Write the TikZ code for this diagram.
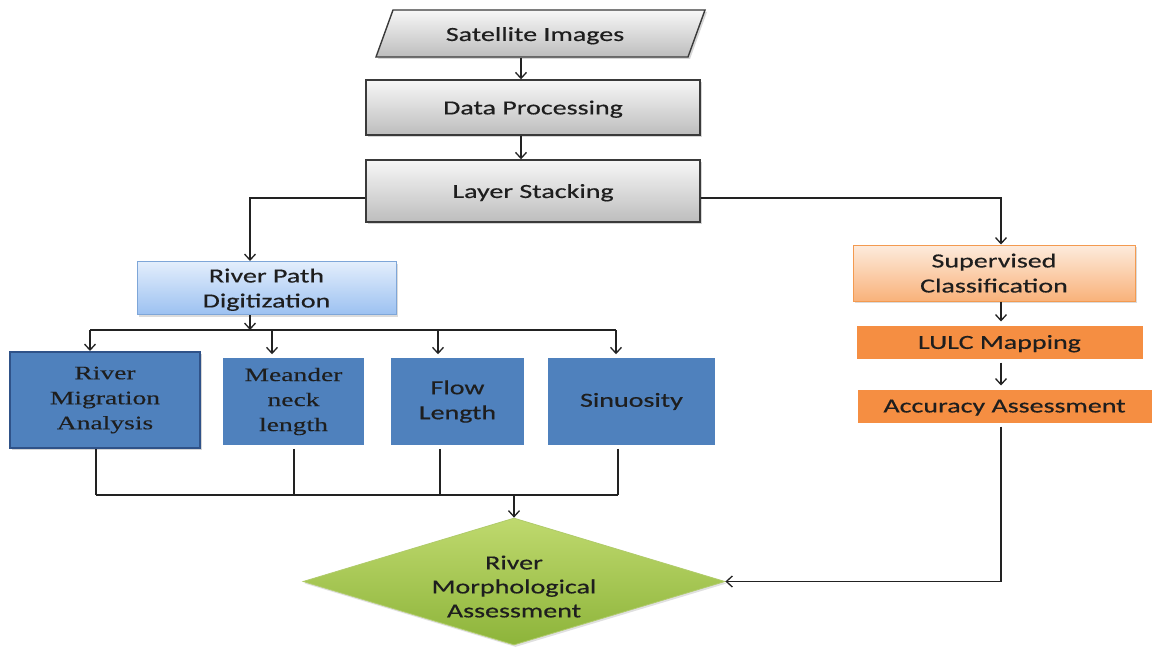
\documentclass[tikz,border=0pt]{standalone}
\usepackage{fontspec}
\setmainfont{Carlito}[FakeStretch=1.40, FakeBold=0.5]
\newfontfamily\serifA{Liberation Serif}[FakeStretch=1.45, FakeBold=0.3]
\usetikzlibrary{shapes.geometric,arrows.meta,shadows}
\definecolor{txt}{HTML}{1E1E1E}
\definecolor{grayedge}{HTML}{3A3A3A}
\definecolor{graytop}{HTML}{F7F7F7}
\definecolor{graybot}{HTML}{BDBDBD}
\definecolor{lbtop}{HTML}{E3EEFC}
\definecolor{lbbot}{HTML}{9CC1F1}
\definecolor{lbedge}{HTML}{7EA6D8}
\definecolor{dblue}{HTML}{4F81BD}
\definecolor{dbedge}{HTML}{2F5288}
\definecolor{ortop}{HTML}{FDEBDD}
\definecolor{orbot}{HTML}{F9B27A}
\definecolor{oredge}{HTML}{F39A50}
\definecolor{orfill}{HTML}{F58E42}
\definecolor{grtop}{HTML}{BFD96E}
\definecolor{grbot}{HTML}{8DB43A}
\definecolor{gredge}{HTML}{B0CB6A}
\definecolor{wire}{HTML}{222222}
\tikzset{
  lbl/.style={font=\fontsize{20}{25}\selectfont, text=txt, align=center, text depth=0pt},
  slbl/.style={font=\serifA\fontsize{19}{25}\selectfont, text=txt, align=center},
  graybox/.style={lbl, draw=grayedge, line width=1.4pt, top color=graytop, bottom color=graybot,
    drop shadow={shadow xshift=2pt, shadow yshift=-2pt, fill=black!40, opacity=.4}, inner sep=0pt},
  lbbox/.style={lbl, draw=lbedge, line width=1pt, top color=lbtop, bottom color=lbbot,
    drop shadow={shadow xshift=2pt, shadow yshift=-2pt, fill=black!40, opacity=.35}, inner sep=0pt},
  bluebox/.style={slbl, draw=white, line width=3.5pt, fill=dblue,
    drop shadow={shadow xshift=1.5pt, shadow yshift=-2pt, fill=black!45, opacity=.35}, inner sep=0pt},
  obox/.style={lbl, draw=oredge, line width=1pt, top color=ortop, bottom color=orbot,
    drop shadow={shadow xshift=2pt, shadow yshift=-2pt, fill=black!40, opacity=.35}, inner sep=0pt},
  ofill/.style={lbl, draw=white, line width=4pt, fill=orfill,
    drop shadow={shadow xshift=1.5pt, shadow yshift=-2pt, fill=black!45, opacity=.35}, inner sep=0pt},
  wireline/.style={draw=wire, line width=1.3pt},
  arr/.style={wireline, -{Straight Barb[length=6pt,width=11pt]}},
}
\begin{document}
\begin{tikzpicture}[x=1pt,y=-1pt]
\useasboundingbox[fill=white] (0,0) rectangle (1161,650);

% Satellite Images (parallelogram)
\path[draw=grayedge, line width=1.4pt, top color=graytop, bottom color=graybot,
  drop shadow={shadow xshift=2pt, shadow yshift=-2pt, fill=black!40, opacity=.4}]
  (376,57) -- (393,10) -- (705,10) -- (688,57) -- cycle;
\node[lbl, minimum width=295, minimum height=47, inner sep=0pt] (sat) at (535,34) {Satellite Images};

\node[graybox, minimum width=334, minimum height=55] (dp) at (533,107.5) {Data Processing};
\node[graybox, minimum width=334, minimum height=62] (ls) at (533,191) {Layer Stacking};

\node[lbbox, minimum width=259, minimum height=53] (rpd) at (266.5,288) {River Path\\Digitization};

\node[bluebox, draw=dbedge, line width=2pt, minimum width=190, minimum height=96] (rma) at (105,400) {River\\Migration\\Analysis};
\node[bluebox, minimum width=144, minimum height=91] (mnl) at (293.5,401.5) {Meander\\neck\\length};
\node[bluebox, font=\fontsize{20}{25}\selectfont, minimum width=136, minimum height=91] (flw) at (457.5,401.5) {Flow\\Length};
\node[bluebox, font=\fontsize{20}{25}\selectfont, minimum width=170, minimum height=91] (sin) at (631.5,401.5) {Sinuosity};

\node[obox, minimum width=282, minimum height=56] (sc) at (994,273) {Supervised\\Classification};
\node[ofill, minimum width=290, minimum height=37] (lulc) at (999.5,342) {LULC Mapping};
\node[ofill, minimum width=298, minimum height=37] (acc) at (1004.5,406) {Accuracy Assessment};

\node[diamond, aspect=3.3, inner sep=0pt, minimum width=422, minimum height=127,
  draw=gredge, line width=0.8pt, top color=grtop, bottom color=grbot,
  drop shadow={shadow xshift=1.5pt, shadow yshift=-2pt, fill=black!40, opacity=.3}] (dia) at (514,581.5) {};
\node[lbl, font=\fontsize{20}{24}\selectfont] (diatext) at ([yshift=-5pt]dia.center) {River\\Morphological\\Assessment};

% coordinates for connectors
\coordinate (cx) at (521,0);
\coordinate (bus) at (250,330);
\coordinate (t1) at (90,330);
\coordinate (t2) at (272,330);
\coordinate (t3) at (438,330);
\coordinate (t4) at (616,330);
\coordinate (u1) at (96,495);
\coordinate (u2) at (294,495);
\coordinate (u3) at (440,495);
\coordinate (u4) at (618,495);
\coordinate (rx) at (1001,0);
\coordinate (lx) at (250,0);

% top chain
\draw[arr] (sat.south -| cx) -- (dp.north -| cx);
\draw[arr] (dp.south -| cx) -- (ls.north -| cx);
\draw[arr] ([yshift=-7pt]ls.west) -| (rpd.north -| lx);
\draw[arr] ([yshift=-7pt]ls.east) -| (sc.north -| rx);

% left fan-out
\draw[arr] (rpd.south -| lx) -- (bus);
\draw[wireline] (t1) -- (t4);
\draw[arr] (t1) -- (t1 |- rma.north);
\draw[arr] (t2) -- (t2 |- mnl.north);
\draw[arr] (t3) -- (t3 |- flw.north);
\draw[arr] (t4) -- (t4 |- sin.north);

% left fan-in
\draw[wireline] (u1 |- rma.south) -- (u1);
\draw[wireline] (u2 |- mnl.south) -- (u2);
\draw[wireline] (u3 |- flw.south) -- (u3);
\draw[wireline] (u4 |- sin.south) -- (u4);
\draw[wireline] (u1) -- (u4);
\draw[arr] (u1 -| dia.north) -- (dia.north);

% right chain
\draw[arr] (sc.south -| rx) -- (lulc.north -| rx);
\draw[arr] (lulc.south -| rx) -- (acc.north -| rx);
\draw[arr] (acc.south -| rx) |- (dia.east);
\end{tikzpicture}
\end{document}
